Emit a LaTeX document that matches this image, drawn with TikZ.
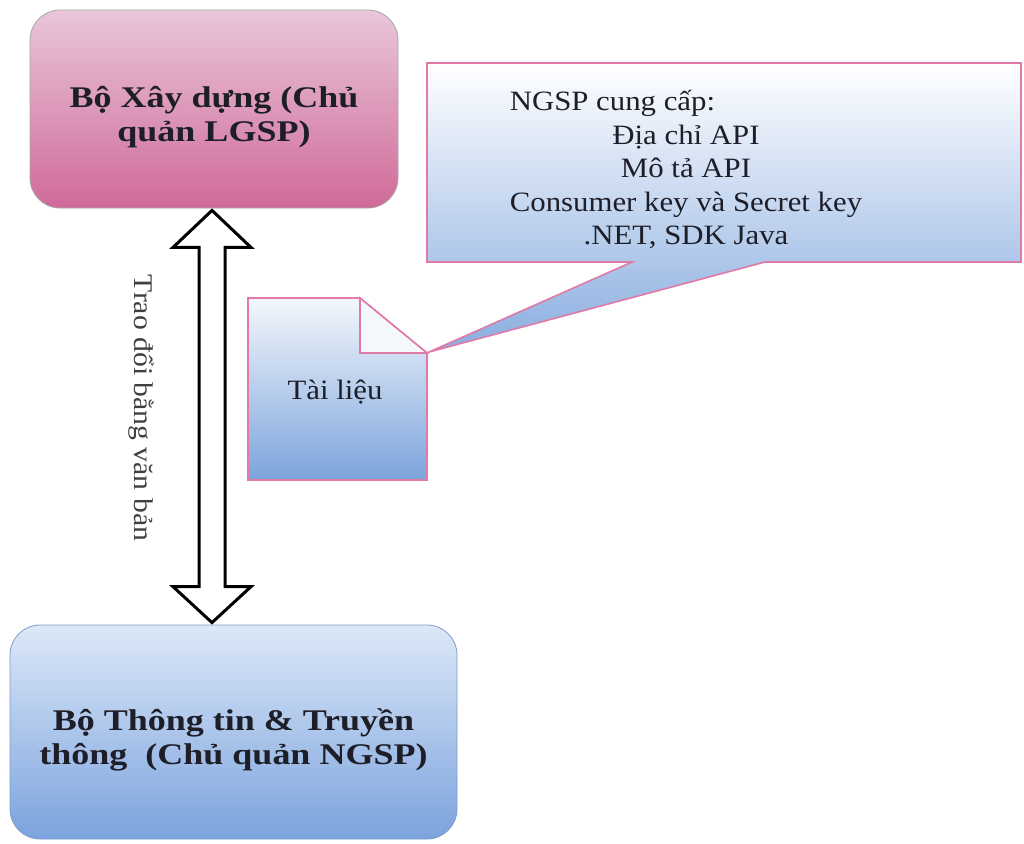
\documentclass[tikz,border=0pt]{standalone}
\usepackage{fontspec}
\setmainfont{Liberation Serif}[FakeStretch=1.1]
\newfontfamily\boldstretch{Liberation Serif}[FakeStretch=1.2]
\usetikzlibrary{calc}
\definecolor{pinkA}{HTML}{E9C6DA}
\definecolor{pinkB}{HTML}{D06A9A}
\definecolor{blueA}{HTML}{DDE8F8}
\definecolor{blueB}{HTML}{7BA3DD}
\definecolor{docA}{HTML}{F4F7FC}
\definecolor{docB}{HTML}{7CA4DC}
\definecolor{pinkline}{HTML}{E07AA8}
\definecolor{txt}{HTML}{1E1E28}
\tikzset{
  base/.style={font=\fontsize{14}{17}\selectfont, text=txt},
  boldtext/.style={text=txt, align=center, font=\boldstretch\fontsize{15}{17}\selectfont\bfseries},
  pinkbox/.style={rounded corners=15pt, draw=gray!70, top color=pinkA, bottom color=pinkB},
  bluebox/.style={rounded corners=15pt, draw=blueB!80!gray, top color=blueA, bottom color=blueB},
  arrowbox/.style={draw=black, line width=1.5pt, fill=white, line join=miter},
  calloutbox/.style={draw=pinkline, line width=0.8pt, top color=white, bottom color=docB!90},
  docbox/.style={draw=pinkline, line width=0.8pt, top color=docA, bottom color=docB},
}
\begin{document}
\begin{tikzpicture}[x=0.5pt,y=-0.5pt]
\useasboundingbox (0,0) rectangle (1024,843);
% top box
\node[pinkbox, minimum width=184pt, minimum height=99pt] (lgsp) at (214,109) {};
\node[boldtext] (lgspt) at (214,117) {Bộ Xây dựng (Chủ\\quản LGSP)};
% bottom box
\node[bluebox, minimum width=223.5pt, minimum height=107pt] (ngsp) at (233.5,732) {};
\node[boldtext] (ngspt) at (233.5,740) {Bộ Thông tin \& Truyền\\thông\ \ (Chủ quản NGSP)};
% double arrow
\coordinate (T) at ($(lgsp.south)+(-2,2)$);
\coordinate (B) at ($(ngsp.north)+(-21.5,-2)$);
\draw[arrowbox] (T) -- ($(T)+(39,37)$) -- ($(T)+(13,37)$) -- ($(B)+(13,-36)$) -- ($(B)+(39,-36)$) -- (B)
  -- ($(B)+(-39,-36)$) -- ($(B)+(-13,-36)$) -- ($(T)+(-13,37)$) -- ($(T)+(-39,37)$) -- cycle;
\node[base, text=black!75, rotate=-90, font=\fontsize{13.5}{17}\selectfont] (lbl) at (141,408) {Trao đổi bằng văn bản};
% callout
\coordinate (tip) at (429,352);
\draw[calloutbox] (427,63) -- (1021,63) -- (1021,262) -- (765,262) -- (tip) -- (632,262) -- (427,262) -- cycle;
\node[base, anchor=north] (call) at (686,80) {\begin{tabular}{@{}c@{}}\multicolumn{1}{@{}l@{}}{NGSP cung cấp:}\\[-0.3pt] Địa chỉ API\\[-0.3pt] Mô tả API\\[-0.3pt] Consumer key và Secret key\\[-0.3pt] .NET, SDK Java\end{tabular}};
% document
\draw[docbox] (248,298) -- (360,298) -- (427,353) -- (427,480) -- (248,480) -- cycle;
\draw[draw=pinkline, line width=0.8pt, fill=docA] (360,298) -- (360,353) -- (427,353) -- cycle;
\node[base] (doc) at (335,392) {Tài liệu};
\draw[draw=pinkline, line width=0.8pt] (tip) -- (427,353);
\end{tikzpicture}
\end{document}
